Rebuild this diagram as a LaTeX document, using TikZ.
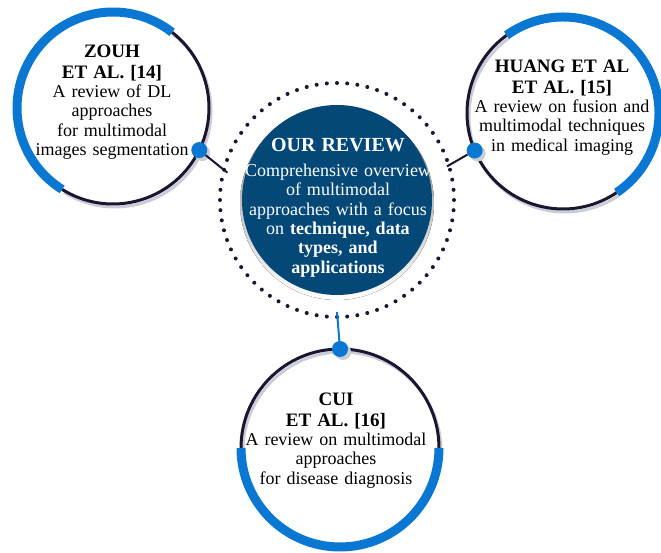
\documentclass[tikz,border=0pt]{standalone}
\usepackage{fontspec}
\setmainfont{Liberation Serif}
\definecolor{ringblue}{HTML}{0A78D2}
\definecolor{ringdark}{HTML}{1B1531}
\definecolor{navy}{HTML}{044878}
\definecolor{shade}{HTML}{C9CED6}
\newcommand\bodyfont{\fontsize{18}{19.3}\selectfont}
\newcommand\headfont{\fontsize{19}{21}\selectfont\bfseries}
\begin{document}
\begin{tikzpicture}[x=1pt,y=1pt,
    arcblue/.style={line width=9pt,draw=ringblue},
    arcdark/.style={line width=3pt,draw=ringdark},
    arcshade/.style={line width=3pt,draw=shade},
    pin/.style={circle,fill=ringblue,inner sep=0pt,minimum size=16pt},
    pinshade/.style={circle,fill=shade,inner sep=0pt,minimum size=16pt},
    link/.style={line width=2pt,draw=ringdark},
    card/.style={text width=220pt,align=center,inner sep=0pt,anchor=north,font=\bodyfont}]
        \useasboundingbox(0,0)rectangle(661,553);
        \coordinate(ours)at(337,353);
        \fill[shade]([yshift=-3]ours)circle(97);
        \fill[navy](ours)circle(95);
        \foreach \a in {0,5,...,355}{
            \fill[ringdark]([shift={(\a:117)}]ours)circle(2);
        }
        \foreach \n/\x/\y/\r/\a/\b/\p in {
        zouh/113/445/96/52/238/334,
        huang/563/440/96/-56/126/203,
        cui/340/105/99/180/360/90}{
            \draw[arcshade,shift={(2,-3)}](\x,\y)++(\b:\r)arc[start angle=\b,end angle=\a+360,radius=\r];
            \draw[arcdark](\x,\y)++(\b:\r)arc[start angle=\b,end angle=\a+360,radius=\r];
            \draw[arcblue](\x,\y)++(\a:\r)arc[start angle=\a,end angle=\b,radius=\r];
            \node[pinshade]at([shift={(\p:\r)}]{\x+3},{\y-3}){};
            \node[pin](\n dot)at([shift={(\p:\r)}]\x,\y){};
        }
        \coordinate(zend)at([shift={(166:113)}]ours);
        \coordinate(hend)at([shift={(17:115)}]ours);
        \coordinate(cend)at([shift={(270:112)}]ours);
        \draw[link](zouhdot)--(zend);
        \draw[link](huangdot)--(hend);
        \draw[link,draw=ringblue](cuidot)--(cend);
        \node[card](zouhtxt)at(112,508.6){{\headfont ZOUH\\ ET AL. [14]\par}
            A review of DL\\ approaches\\ for multimodal\\ images segmentation};
        \node[card](huangtxt)at(562,493.6){{\headfont HUANG ET AL\\ ET AL. [15]\par}
            A review on fusion and\\ multimodal techniques\\ in medical imaging};
        \node[card](cuitxt)at(336,160.6){{\headfont CUI\\ ET AL. [16]\par}
            A review on multimodal\\ approaches\\ for disease diagnosis};
        \node[card,text=white](ourtxt)at(338,415.2){{\fontsize{20}{22}\selectfont\bfseries OUR REVIEW\par}
            \vspace{6pt}Comprehensive overview\\ of multimodal\\ approaches with a focus\\
            on {\bfseries technique, data\\ types, and\\ applications}};
\end{tikzpicture}
\end{document}
